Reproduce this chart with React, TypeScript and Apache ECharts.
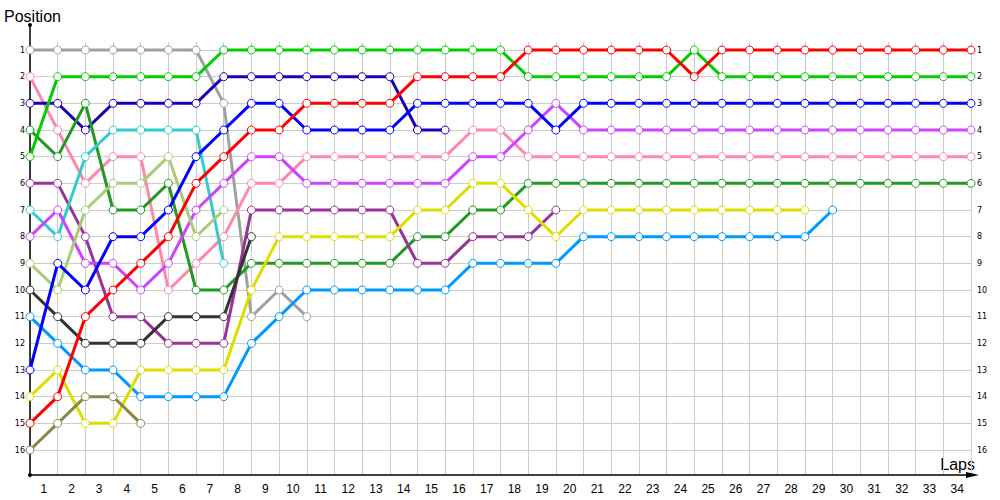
import React, { useEffect, useRef } from "react";
import * as echarts from "echarts";

const lapLabels = [
  "1", "2", "3", "4", "5", "6", "7", "8", "9", "10", "11", "12", "13", "14", "15", "16", "17",
  "18", "19", "20", "21", "22", "23", "24", "25", "26", "27", "28", "29", "30", "31", "32", "33", "34",
];

// positions per lap, index 0 = start grid
const gray = [1, 1, 1, 1, 1, 1, 1, 3, 11, 10, 11];
const pink = [2, 4, 6, 5, 5, 10, 9, 8, 6, 6, 5, 5, 5, 5, 5, 5, 4, 4, 5, 5, 5, 5, 5, 5, 5, 5, 5, 5, 5, 5, 5, 5, 5, 5, 5];
const darkBlue = [3, 3, 4, 3, 3, 3, 3, 2, 2, 2, 2, 2, 2, 2, 4, 4];
const darkGreen = [4, 5, 3, 7, 7, 6, 10, 10, 9, 9, 9, 9, 9, 9, 8, 8, 7, 7, 6, 6, 6, 6, 6, 6, 6, 6, 6, 6, 6, 6, 6, 6, 6, 6, 6];
const green = [5, 2, 2, 2, 2, 2, 2, 1, 1, 1, 1, 1, 1, 1, 1, 1, 1, 1, 2, 2, 2, 2, 2, 2, 1, 2, 2, 2, 2, 2, 2, 2, 2, 2, 2];
const purple = [6, 6, 8, 11, 11, 12, 12, 12, 7, 7, 7, 7, 7, 7, 9, 9, 8, 8, 8, 7];
const cyan = [7, 8, 5, 4, 4, 4, 4, 9];
const magenta = [8, 7, 9, 9, 10, 9, 7, 6, 5, 5, 6, 6, 6, 6, 6, 6, 5, 5, 4, 3, 4, 4, 4, 4, 4, 4, 4, 4, 4, 4, 4, 4, 4, 4, 4];
const lightOlive = [9, 10, 7, 6, 6, 5, 8, 7];
const black = [10, 11, 12, 12, 12, 11, 11, 11, 8];
const skyBlue = [11, 12, 13, 13, 14, 14, 14, 14, 12, 11, 10, 10, 10, 10, 10, 10, 9, 9, 9, 9, 8, 8, 8, 8, 8, 8, 8, 8, 8, 7];
const blue = [13, 9, 10, 8, 8, 7, 5, 4, 3, 3, 4, 4, 4, 4, 3, 3, 3, 3, 3, 4, 3, 3, 3, 3, 3, 3, 3, 3, 3, 3, 3, 3, 3, 3, 3];
const yellow = [14, 13, 15, 15, 13, 13, 13, 13, 10, 8, 8, 8, 8, 8, 7, 7, 6, 6, 7, 8, 7, 7, 7, 7, 7, 7, 7, 7, 7];
const red = [15, 14, 11, 10, 9, 8, 6, 5, 4, 4, 3, 3, 3, 3, 2, 2, 2, 2, 1, 1, 1, 1, 1, 1, 2, 1, 1, 1, 1, 1, 1, 1, 1, 1, 1];
const olive = [16, 15, 14, 14, 15];

const drivers: { name: string; color: string; data: number[] }[] = [
  { name: "gray", color: "#a0a0a0", data: gray },
  { name: "pink", color: "#ff88aa", data: pink },
  { name: "darkBlue", color: "#1a00b8", data: darkBlue },
  { name: "darkGreen", color: "#229922", data: darkGreen },
  { name: "green", color: "#00cc00", data: green },
  { name: "purple", color: "#993399", data: purple },
  { name: "cyan", color: "#33cccc", data: cyan },
  { name: "magenta", color: "#cc44ff", data: magenta },
  { name: "lightOlive", color: "#aacc77", data: lightOlive },
  { name: "black", color: "#333333", data: black },
  { name: "skyBlue", color: "#0099ff", data: skyBlue },
  { name: "blue", color: "#0000ff", data: blue },
  { name: "yellow", color: "#dddd00", data: yellow },
  { name: "red", color: "#ff0000", data: red },
  { name: "olive", color: "#888844", data: olive },
];

const GL = 30;
const GW = 941;

export default function App() {
  const ref = useRef<HTMLDivElement>(null);
  useEffect(() => {
    document.body.style.margin = "0";
    if (!ref.current) return;
    const chart = echarts.init(ref.current, null, { renderer: "svg" });
    const series: any[] = drivers.map((d) => ({
      name: d.name,
      type: "line",
      xAxisIndex: 0,
      yAxisIndex: 0,
      data: d.data.map((p, i) => [i, p]),
      symbol: "circle",
      symbolSize: 8,
      showSymbol: true,
      lineStyle: { color: d.color, width: 3 },
      itemStyle: { color: "#ffffff", borderColor: d.color, borderWidth: 1 },
      emphasis: { disabled: true },
    }));
    chart.setOption({
      animation: false,
      grid: [
        { left: GL, top: 42, width: GW, height: 433, outerBoundsMode: "none" },
        { left: GL, top: 50, width: GW, height: 400, outerBoundsMode: "none" },
      ],
      xAxis: [
        {
          type: "value",
          gridIndex: 0,
          min: 0,
          max: 34,
          interval: 1,
          axisLine: { show: false },
          axisTick: { show: false },
          axisLabel: { show: false },
          splitLine: { show: true, lineStyle: { color: "#cccccc", width: 1 } },
        },
        {
          type: "category",
          gridIndex: 0,
          position: "bottom",
          data: lapLabels,
          boundaryGap: true,
          axisLine: { show: false },
          axisTick: { show: false },
          splitLine: { show: false },
          axisLabel: {
            show: true,
            interval: 0,
            margin: 8,
            color: "#000000",
            fontSize: 12,
            fontFamily: "Liberation Sans, Arial, sans-serif",
          },
        },
        { type: "value", gridIndex: 1, min: 0, max: 34, show: false },
      ],
      yAxis: [
        {
          type: "value",
          gridIndex: 0,
          min: 0.7,
          max: 16.9375,
          inverse: true,
          show: false,
          splitLine: { show: false },
        },
        {
          type: "value",
          gridIndex: 1,
          position: "left",
          min: 1,
          max: 16,
          interval: 1,
          inverse: true,
          axisLine: { show: false },
          axisTick: { show: false },
          splitLine: { show: true, lineStyle: { color: "#cccccc", width: 1 } },
          axisLabel: {
            margin: 5,
            color: "#000000",
            fontSize: 8,
            fontFamily: "DejaVu Sans, Verdana, sans-serif",
          },
        },
        {
          type: "value",
          gridIndex: 1,
          position: "right",
          min: 1,
          max: 16,
          interval: 1,
          inverse: true,
          axisLine: { show: false },
          axisTick: { show: false },
          splitLine: { show: false },
          axisLabel: {
            margin: 6,
            color: "#000000",
            fontSize: 8,
            fontFamily: "DejaVu Sans, Verdana, sans-serif",
          },
        },
      ],
      graphic: [
        { type: "line", z: 1, shape: { x1: 30, y1: 24, x2: 30, y2: 475 }, style: { stroke: "#000", lineWidth: 1.5 } },
        { type: "circle", z: 1, shape: { cx: 30, cy: 25, r: 2 }, style: { fill: "#000" } },
        { type: "line", z: 1, shape: { x1: 30, y1: 475, x2: 970, y2: 475 }, style: { stroke: "#000", lineWidth: 1.5 } },
        { type: "circle", z: 1, shape: { cx: 30, cy: 475, r: 2 }, style: { fill: "#000" } },
        {
          type: "polygon",
          z: 1,
          shape: { points: [[966, 472], [979, 475], [966, 478]] },
          style: { fill: "#000" },
        },
        {
          type: "text",
          x: 4,
          y: 16,
          style: {
            text: "Position",
            fill: "#000",
            font: "16px Liberation Sans, Arial, sans-serif",
            textAlign: "left",
            textVerticalAlign: "middle",
          },
        },
        {
          type: "text",
          x: 975,
          y: 464,
          style: {
            text: "Laps",
            fill: "#000",
            font: "16px Liberation Sans, Arial, sans-serif",
            textAlign: "right",
            textVerticalAlign: "middle",
          },
        },
      ],
      series,
    });
    return () => {
      chart.dispose();
    };
  }, []);
  return <div ref={ref} style={{ width: 1000, height: 500 }} />;
}
